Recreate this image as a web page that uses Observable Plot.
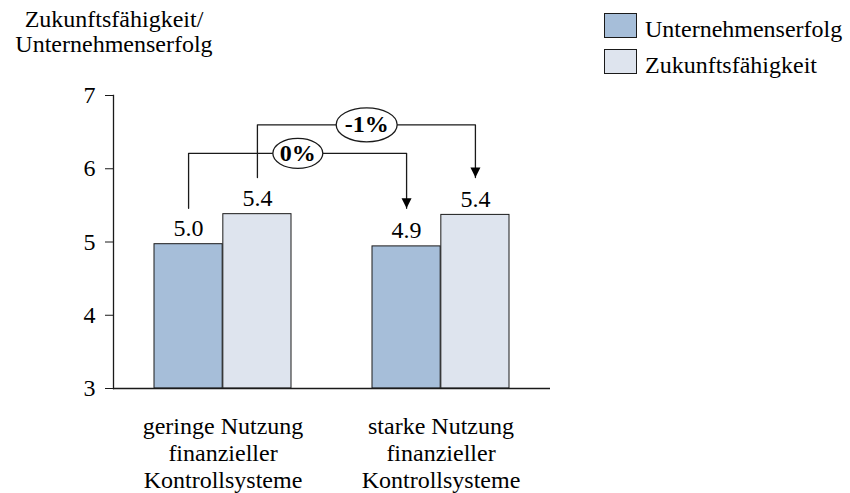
<!DOCTYPE html>
<html>
<head>
<meta charset="utf-8">
<script src="https://cdn.jsdelivr.net/npm/d3@7"></script>
<script src="https://cdn.jsdelivr.net/npm/@observablehq/plot@0.6"></script>
<style>
  body { margin: 0; background: #fff; }
  #wrap { position: relative; width: 850px; height: 493px; font-family: "Liberation Serif", serif; color: #000; overflow: hidden; }
  #wrap svg { position: absolute; left: 0; top: 0; font-family: "Liberation Serif", serif; }
  .title { position: absolute; left: 12px; top: 7px; width: 204px; text-align: center; font-size: 24px; line-height: 25px; white-space: pre; }
  .lgbox { position: absolute; width: 33px; height: 25px; box-sizing: border-box; border: 1.3px solid #1a1a1a; }
  .lgtext { position: absolute; font-size: 24px; line-height: 26px; white-space: pre; }
</style>
</head>
<body>
<div id="wrap"></div>
<script>
// ---- data ----
const yTitleLines = ["Zukunftsfähigkeit/", "Unternehmenserfolg"];
const categories = ["geringe Nutzung\nfinanzieller\nKontrollsysteme", "starke Nutzung\nfinanzieller\nKontrollsysteme"];
const seriesNames = ["Unternehmenserfolg", "Zukunftsfähigkeit"];
const unternehmenserfolg = [4.97, 4.94];
const zukunftsfaehigkeit = [5.38, 5.37];
const yTicks = [3, 4, 5, 6, 7];
const comparisonSeries = ["Unternehmenserfolg", "Zukunftsfähigkeit"];
const comparisonLabels = ["0%", "-1%"];
const comparisonFrom = [5.46, 5.88];
const comparisonLevel = [6.21, 6.60];
const comparisonTo = [5.46, 5.88];

// ---- styling ----
const FONT = "Liberation Serif, serif";
const seriesColors = {"Unternehmenserfolg": "#a6bed9", "Zukunftsfähigkeit": "#dee4ee"};
const W = 850, H = 493, ML = 113, MR = 300, MT = 95, MB = 105;
const ink = "#1a1a1a";
const xOpts = {type: "band", domain: categories, paddingInner: 0.37, paddingOuter: 0.185};
const xs = Plot.scale({x: {...xOpts, range: [ML, W - MR]}});
const bw = xs.bandwidth, step = xs.step;
const seriesOffset = {"Unternehmenserfolg": -bw / 4, "Zukunftsfähigkeit": bw / 4};

const rows = [];
categories.forEach((c, i) => {
  rows.push({category: c, series: seriesNames[0], value: unternehmenserfolg[i]});
  rows.push({category: c, series: seriesNames[1], value: zukunftsfaehigkeit[i]});
});
const fmt = d3.format(".1f");

function ellipseSymbol(rx, ry) {
  const k = 0.5523;
  return {draw(ctx) {
    ctx.moveTo(rx, 0);
    ctx.bezierCurveTo(rx, ry * k, rx * k, ry, 0, ry);
    ctx.bezierCurveTo(-rx * k, ry, -rx, ry * k, -rx, 0);
    ctx.bezierCurveTo(-rx, -ry * k, -rx * k, -ry, 0, -ry);
    ctx.bezierCurveTo(rx * k, -ry, rx, -ry * k, rx, 0);
    ctx.closePath();
  }};
}
const arrowSymbol = {draw(ctx) {
  ctx.moveTo(-5, -10); ctx.lineTo(5, -10); ctx.lineTo(0, 0); ctx.closePath();
}};

const marks = [];
marks.push(Plot.axisY({ticks: yTicks, tickFormat: d3.format("d"), tickSize: 8, tickPadding: 10, fontSize: 24, fontFamily: FONT, label: null, stroke: ink}));
marks.push(Plot.axisX({tickSize: 0, tickPadding: 26, fontSize: 24, fontFamily: FONT, lineHeight: 1.125, label: null}));
seriesNames.forEach((s, si) => {
  marks.push(Plot.barY(rows.filter(d => d.series === s), {
    x: "category", y1: () => yTicks[0], y2: "value",
    fill: seriesColors[s], stroke: ink, strokeWidth: 1,
    insetLeft: si === 0 ? 0 : bw / 2, insetRight: si === 0 ? bw / 2 : 0
  }));
  marks.push(Plot.text(rows.filter(d => d.series === s), {
    x: "category", y: "value", text: d => fmt(d.value), dx: seriesOffset[s], dy: -8,
    lineAnchor: "bottom", fontSize: 24, fontFamily: FONT, letterSpacing: "1px"
  }));
});
marks.push(Plot.frame({anchor: "left", stroke: ink, strokeWidth: 1.3}));
marks.push(Plot.ruleY([yTicks[0]], {stroke: ink, strokeWidth: 1.3}));
comparisonLabels.forEach((lab, i) => {
  const o = seriesOffset[comparisonSeries[i]];
  const pts = [
    {x: categories[0], y: comparisonFrom[i]},
    {x: categories[0], y: comparisonLevel[i]},
    {x: categories[1], y: comparisonLevel[i]},
    {x: categories[1], y: comparisonTo[i]}
  ];
  marks.push(Plot.line(pts, {x: "x", y: "y", dx: o, stroke: ink, strokeWidth: 1.3}));
  marks.push(Plot.dot([pts[3]], {x: "x", y: "y", dx: o, symbol: arrowSymbol, fill: "#000", stroke: "none"}));
  const rx = 14 + 5.5 * lab.length, ry = 11 + 2 * lab.length;
  marks.push(Plot.dot([pts[1]], {x: "x", y: "y", dx: o + step / 2, symbol: ellipseSymbol(rx, ry), fill: "white", stroke: ink, strokeWidth: 1.3}));
  marks.push(Plot.text([pts[1]], {x: "x", y: "y", dx: o + step / 2, text: () => lab, fontSize: 24, fontWeight: "bold", fontFamily: FONT}));
});

const chart = Plot.plot({
  width: W, height: H,
  marginLeft: ML, marginRight: MR, marginTop: MT, marginBottom: MB,
  style: {fontFamily: FONT, fontSize: "24px", color: "#000", background: "transparent"},
  x: xOpts,
  y: {domain: [yTicks[0], yTicks[yTicks.length - 1]]},
  marks
});
const wrap = document.getElementById("wrap");
wrap.appendChild(chart);

const title = document.createElement("div");
title.className = "title";
title.textContent = yTitleLines.join("\n");
wrap.appendChild(title);

const lgTop = [13, 49];
seriesNames.forEach((s, i) => {
  const b = document.createElement("div");
  b.className = "lgbox";
  b.style.left = "604px"; b.style.top = lgTop[i] + "px";
  b.style.background = seriesColors[s];
  wrap.appendChild(b);
  const t = document.createElement("div");
  t.className = "lgtext";
  t.style.left = "645px"; t.style.top = (lgTop[i] + 3) + "px";
  t.textContent = s;
  wrap.appendChild(t);
});
</script>
</body>
</html>
